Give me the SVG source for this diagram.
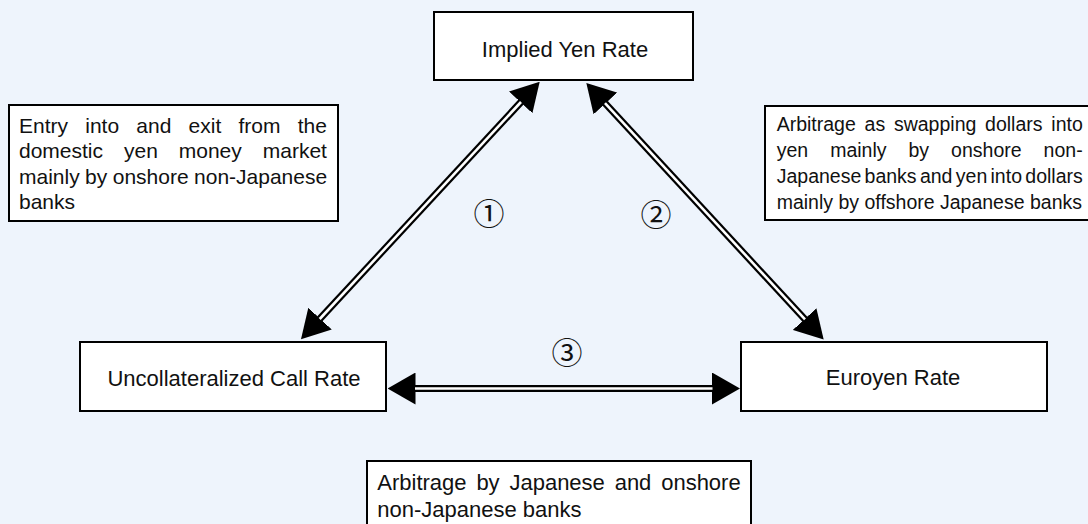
<svg xmlns="http://www.w3.org/2000/svg" width="1088" height="524" viewBox="0 0 1088 524">
<style>
.box{fill:#fff;stroke:#000;stroke-width:2}
.lbl{font-family:"Liberation Sans",Arial,sans-serif;font-size:22px;fill:#111;text-anchor:middle}
.p21{font-family:"Liberation Sans",Arial,sans-serif;font-size:21px;fill:#111}
.p195{font-family:"Liberation Sans",Arial,sans-serif;font-size:19.5px;fill:#111}
.p22{font-family:"Liberation Sans",Arial,sans-serif;font-size:22px;fill:#111}
.num{font-family:"Noto Sans CJK JP","DejaVu Sans",sans-serif;font-size:31px;fill:#111;text-anchor:middle}
.outer{stroke:#000;stroke-width:7;fill:none;marker-start:url(#head);marker-end:url(#head)}
.inner{stroke:#fff;stroke-width:2.6;fill:none}
</style>
<defs>
<marker id="head" viewBox="0 -16 28 32" refX="0.5" refY="0" markerWidth="28" markerHeight="32" markerUnits="userSpaceOnUse" orient="auto-start-reverse">
<path d="M0,-16 L28,0 L0,16 z" fill="#000"/>
</marker>
</defs>
<rect x="0" y="0" width="1088" height="524" fill="#EEF4FC"/>

<g id="connectors">
<line class="outer" x1="415" y1="388.5" x2="712.5" y2="388.5"/>
<line class="inner" x1="415" y1="388.5" x2="712.5" y2="388.5"/>
<line class="outer" x1="319.7" y1="319" x2="521" y2="102"/>
<line class="inner" x1="319.7" y1="319" x2="521" y2="102"/>
<line class="outer" x1="605" y1="103.1" x2="805" y2="319.4"/>
<line class="inner" x1="605" y1="103.1" x2="805" y2="319.4"/>
</g>

<g id="node-implied">
<rect class="box" x="434" y="12" width="259" height="68"/>
<text class="lbl" x="565" y="57">Implied Yen Rate</text>
</g>
<g id="node-call">
<rect class="box" x="80" y="342" width="306" height="69"/>
<text class="lbl" x="234" y="386">Uncollateralized Call Rate</text>
</g>
<g id="node-euroyen">
<rect class="box" x="741" y="342" width="306" height="69"/>
<text class="lbl" x="893" y="385">Euroyen Rate</text>
</g>

<g id="note-left">
<rect class="box" x="9" y="105" width="329" height="116"/>
<text class="p21" x="19" y="132.5" word-spacing="11.4">Entry into and exit from the</text>
<text class="p21" x="19" y="158" word-spacing="15.1">domestic yen money market</text>
<text class="p21" x="19" y="183.5" word-spacing="-0.4">mainly by onshore non-Japanese</text>
<text class="p21" x="19" y="209">banks</text>
</g>

<g id="note-right">
<rect class="box" x="765" y="106" width="330" height="114"/>
<text class="p195" x="776.7" y="131" word-spacing="3.35">Arbitrage as swapping dollars into</text>
<text class="p195" x="776.7" y="157" word-spacing="16.6">yen mainly by onshore non-</text>
<text class="p195" x="776.7" y="183" word-spacing="-2.1">Japanese banks and yen into dollars</text>
<text class="p195" x="776.7" y="209">mainly by offshore Japanese banks</text>
</g>

<g id="note-bottom">
<rect class="box" x="367" y="461" width="384" height="70"/>
<text class="p22" x="377.3" y="490" word-spacing="3.7">Arbitrage by Japanese and onshore</text>
<text class="p22" x="377.3" y="517">non-Japanese banks</text>
</g>

<g id="labels">
<text class="num" x="489" y="225">①</text>
<text class="num" x="656" y="226">②</text>
<text class="num" x="567" y="364">③</text>
</g>
</svg>
